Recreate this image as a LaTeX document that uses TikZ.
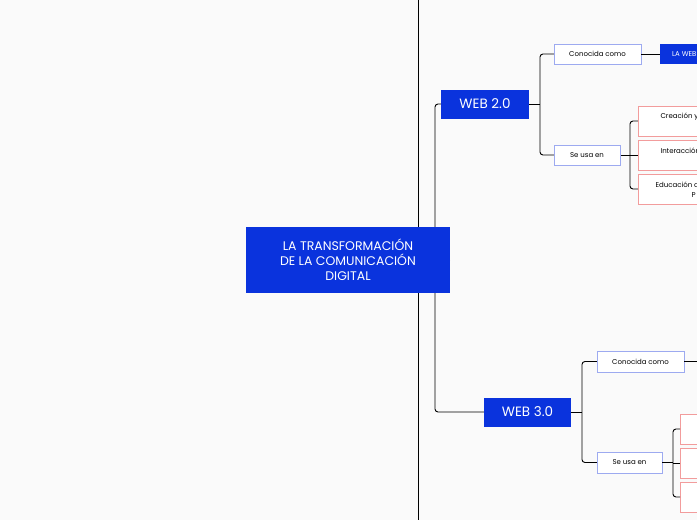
\documentclass[tikz,border=0pt]{standalone}
\usepackage{fontspec}
\setmainfont{Poppins}
\definecolor{mainblue}{HTML}{0A33DD}
\definecolor{paleblue}{HTML}{9DAAF0}
\definecolor{palered}{HTML}{F29C9C}
\definecolor{bgcol}{HTML}{FAFAFA}
\tikzset{
  topic/.style={fill=mainblue,text=white,inner sep=0pt},
  sub/.style={draw=paleblue,fill=white,inner sep=0pt,font=\fontsize{7}{8}\selectfont},
  leaf/.style={draw=palered,fill=white,inner sep=0pt,font=\fontsize{7}{8}\selectfont},
  link/.style={line width=0.9pt,rounded corners=3pt},
}
\begin{document}
\begin{tikzpicture}[x=1pt,y=-1pt]
  \fill[bgcol] (0,0) rectangle (697,520);
  \useasboundingbox (0,0) rectangle (697,520);
  \clip (0,0) rectangle (697,520);
  \draw[line width=1pt] (418,0) -- (418,520);
  % connectors
  \draw[link] (450,260) -- (435,260);
  \draw[link] (441,104) -- (435,104) -- (435,412) -- (484,412);
  \draw[link] (529,104) -- (540,104);
  \draw[link] (554,54) -- (540,54) -- (540,155) -- (554,155);
  \draw[link] (620,155) -- (630,155);
  \draw[link] (638,121) -- (630,121) -- (630,189) -- (638,189);
  \draw[link] (630,155) -- (638,155);
  % central topic
  \node[topic,minimum width=204pt,minimum height=66pt,align=center,font=\fontsize{12.5}{15}\selectfont]
    (root) at (348,260) {LA TRANSFORMACIÓN\\DE LA COMUNICACIÓN\\DIGITAL};
  \node[topic,minimum width=88pt,minimum height=29pt,font=\fontsize{13.5}{15}\selectfont] (web2) at (485,104) {WEB 2.0};
  \node[topic,minimum width=87pt,minimum height=29pt,font=\fontsize{13.5}{15}\selectfont] (web3) at (527.5,412) {WEB 3.0};
  % web 2.0 branch
  \node[sub,minimum width=87pt,minimum height=20pt] (kn2) at (597.5,54) {Conocida como};
  \node[topic,minimum width=60pt,minimum height=20pt,anchor=west,font=\fontsize{7}{8}\selectfont] (lw2) at (660,54) {\hspace{12pt}LA WEB SOCIAL};
  \node[sub,minimum width=66pt,minimum height=20pt] (us2) at (587,155) {Se usa en};
  \node[leaf,minimum width=80pt,minimum height=30pt,anchor=west] (a1) at (638,121) {};
  \node[leaf,minimum width=80pt,minimum height=30pt,anchor=west] (a2) at (638,155) {};
  \node[leaf,minimum width=80pt,minimum height=30pt,anchor=west] (a3) at (638,189) {};
  \node[font=\fontsize{7}{8}\selectfont,anchor=west] (t1) at (657,117) {Creación y};
  \node[font=\fontsize{7}{8}\selectfont,anchor=west] (t2) at (657,151) {Interacción};
  \node[font=\fontsize{7}{8}\selectfont,anchor=west] (t3) at (652,185) {Educación d};
  \node[font=\fontsize{7}{8}\selectfont,anchor=west] (t3b) at (688,195) {P};
  % web 3.0 branch
  \node[sub,minimum width=87pt,minimum height=21pt] (kn3) at (640.5,361.5) {Conocida como};
  \coordinate (e3) at (697,361.5);
  \node[sub,minimum width=65pt,minimum height=21pt] (us3) at (629.5,462.5) {Se usa en};
  \node[leaf,minimum width=40pt,minimum height=30pt,anchor=west] (b1) at (680,429) {};
  \node[leaf,minimum width=40pt,minimum height=30pt,anchor=west] (b2) at (680,463) {};
  \node[leaf,minimum width=40pt,minimum height=30pt,anchor=west] (b3) at (680,497) {};
  \draw[link] (kn2.east) -- (lw2.west);
  \draw[link] (web3.east) -- (582,412);
  \draw[link] (kn3.west) -- (582,361.5) -- (582,462.5) -- (us3.west);
  \draw[link] (kn3.east) -- (e3);
  \draw[link] (us3.east) -- (673,462.5);
  \draw[link] (b1.west) -- (673,429) -- (673,497) -- (b3.west);
  \draw[link] (673,463) -- (b2.west);
\end{tikzpicture}
\end{document}
